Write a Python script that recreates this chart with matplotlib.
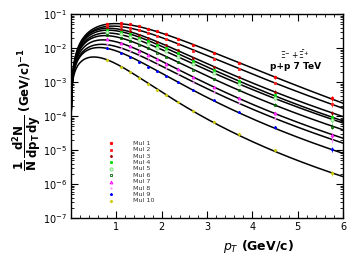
import numpy as np
import matplotlib
matplotlib.use('Agg')
import matplotlib.pyplot as plt
from matplotlib.ticker import LogLocator, MultipleLocator, FixedLocator, NullFormatter

# pT bin centres (GeV/c)
pt = [0.8, 1.1, 1.3, 1.5, 1.7, 1.9, 2.1, 2.35, 2.7, 3.15, 3.7, 4.5, 5.75]

# spectra, one list per multiplicity class
mul1 = [5.2e-2, 5.5e-2, 5.0e-2, 4.3e-2, 3.7e-2, 3.1e-2, 2.5e-2, 1.9e-2, 1.2e-2, 6.9e-3, 3.6e-3, 1.4e-3, 3.3e-4]
mul2 = [4.5e-2, 4.4e-2, 4.0e-2, 3.3e-2, 2.8e-2, 2.3e-2, 1.8e-2, 1.35e-2, 8.4e-3, 4.8e-3, 2.45e-3, 9.4e-4, 2.2e-4]
mul3 = [4.0e-2, 3.6e-2, 3.1e-2, 2.4e-2, 1.95e-2, 1.5e-2, 1.2e-2, 8.6e-3, 5.1e-3, 2.8e-3, 1.4e-3, 5.2e-4, 1.2e-4]
mul4 = [3.4e-2, 3.0e-2, 2.55e-2, 2.0e-2, 1.6e-2, 1.25e-2, 9.7e-3, 6.9e-3, 4.15e-3, 2.3e-3, 1.1e-3, 4.2e-4, 9.5e-5]
mul5 = [2.9e-2, 2.5e-2, 2.1e-2, 1.67e-2, 1.32e-2, 1.02e-2, 7.9e-3, 5.6e-3, 3.35e-3, 1.8e-3, 8.9e-4, 3.3e-4, 7.6e-5]
mul6 = [2.4e-2, 2.0e-2, 1.64e-2, 1.26e-2, 9.7e-3, 7.3e-3, 5.6e-3, 3.9e-3, 2.3e-3, 1.23e-3, 5.9e-4, 2.15e-4, 4.9e-5]
mul7 = [1.78e-2, 1.4e-2, 1.12e-2, 8.4e-3, 6.2e-3, 4.6e-3, 3.5e-3, 2.4e-3, 1.37e-3, 7.2e-4, 3.4e-4, 1.22e-4, 2.75e-5]
mul8 = [1.32e-2, 1.03e-2, 8.2e-3, 6.1e-3, 4.5e-3, 3.35e-3, 2.5e-3, 1.7e-3, 9.8e-4, 5.1e-4, 2.4e-4, 8.6e-5, 1.95e-5]
mul9 = [9.8e-3, 7.1e-3, 5.5e-3, 4.0e-3, 2.85e-3, 2.06e-3, 1.52e-3, 1.0e-3, 5.65e-4, 2.9e-4, 1.32e-4, 4.7e-5, 1.05e-5]
mul10 = [4.5e-3, 2.75e-3, 2.0e-3, 1.35e-3, 8.7e-4, 5.9e-4, 4.2e-4, 2.57e-4, 1.38e-4, 6.8e-5, 2.9e-5, 9.8e-6, 2.1e-6]

# where the fit curves start at the left edge (all bunch near 1e-3)
edge_pt = 0.03
edge_y = [1.2e-3, 1.2e-3, 1.15e-3, 1.1e-3, 1.1e-3, 1.05e-3, 1.0e-3, 1.0e-3, 9.5e-4, 8.5e-4]

# relative errors per bin (small, only visible at high pT)
rel_err = [0.03, 0.03, 0.03, 0.03, 0.03, 0.03, 0.04, 0.04, 0.05, 0.06, 0.08, 0.1, 0.16]

labels = ['Mul 1', 'Mul 2', 'Mul 3', 'Mul 4', 'Mul 5', 'Mul 6', 'Mul 7', 'Mul 8', 'Mul 9', 'Mul 10']
series = [mul1, mul2, mul3, mul4, mul5, mul6, mul7, mul8, mul9, mul10]

# marker styles: (marker, edge colour, face colour, size)
styles = [
    ('o', '#ff0000', '#ff0000', 1.8),
    ('s', '#ff2020', '#ff2020', 1.7),
    ('o', '#a00000', '#a00000', 1.4),
    ('s', '#00dd00', '#00dd00', 1.4),
    ('o', '#77dd77', '#ccffcc', 2.3),
    ('s', '#006600', 'none', 2.0),
    ('^', '#ff00ff', '#ff88ff', 2.1),
    ('.', '#ff88ff', '#ff88ff', 1.7),
    ('*', '#0000ff', '#0000ff', 1.9),
    ('D', '#cccc00', '#cccc00', 1.4),
]

M_XI = 1.3217


def tsallis(x, a, T, n):
    mt = np.sqrt(x**2 + M_XI**2)
    return x**a * (1 + (mt - M_XI) / (n * T))**(-n)


def fit_tsallis(x, y):
    # grid search in log space, normalisation solved directly
    x = np.asarray(x)[None, None, None, :]
    ly = np.log(np.asarray(y))[None, None, None, :]
    a = np.arange(0.1, 1.3, 0.05)[:, None, None, None]
    T = np.arange(0.05, 0.8, 0.01)[None, :, None, None]
    n = np.arange(2.5, 60, 0.5)[None, None, :, None]
    lf = np.log(tsallis(x, a, T, n))
    c = np.mean(ly - lf, axis=-1, keepdims=True)
    r = np.sum((ly - lf - c)**2, axis=-1)
    i, j, k = np.unravel_index(np.argmin(r), r.shape)
    return a[i, 0, 0, 0], T[0, j, 0, 0], n[0, 0, k, 0], np.exp(c[i, j, k, 0])


fig = plt.figure(figsize=(3.55, 2.57), dpi=100)
ax = fig.add_axes([71/355, 1 - 218/257, 272/355, 204/257])

xs = np.linspace(0.005, 6.0, 400)
for y, y0 in zip(series, edge_y):
    a, T, n, C = fit_tsallis([edge_pt] + pt, [y0] + y)
    ax.plot(xs, C * tsallis(xs, a, T, n), color='black', lw=1.1, zorder=2)

for y, (mk, ec, fc, ms) in zip(series, styles):
    y = np.asarray(y)
    ax.errorbar(pt, y, yerr=y * np.asarray(rel_err), fmt=mk, mec=ec, mfc=fc, ms=ms,
                mew=0.6, ecolor=ec, elinewidth=0.6, capsize=0, zorder=3)

ax.set_yscale('log')
ax.set_xlim(0, 6)
ax.set_ylim(1e-7, 1e-1)

ax.xaxis.set_major_locator(FixedLocator([1, 2, 3, 4, 5, 6]))
ax.xaxis.set_minor_locator(MultipleLocator(0.2))
ax.yaxis.set_major_locator(LogLocator(base=10, numticks=10))
ax.yaxis.set_minor_locator(LogLocator(base=10, subs=np.arange(2, 10), numticks=20))
ax.yaxis.set_minor_formatter(NullFormatter())
ax.tick_params(which='both', direction='in', top=True, right=True, labelsize=7, pad=3)
ax.tick_params(which='major', length=5, width=0.8)
ax.tick_params(which='minor', length=2.5, width=0.6)
for s in ax.spines.values():
    s.set_linewidth(1.0)

ax.set_xlabel(r'$\mathbf{\it{p}_{T}}$ (GeV/c)', fontsize=9, fontweight='bold')
ax.xaxis.set_label_coords(0.69, -0.10)
ax.set_ylabel(r'$\mathbf{\dfrac{1}{N}\,\dfrac{d^2N}{dp_T\,dy}}$ (GeV/c)$^{\mathbf{-1}}$',
              fontsize=8.5, fontweight='bold')
ax.yaxis.set_label_coords(-0.10, 0.53)

ax.text(0.825, 0.80, r'$\Xi^{-}+\bar{\Xi}^{+}$', transform=ax.transAxes,
        fontsize=5.5, ha='center', va='center')
ax.text(0.825, 0.745, 'p+p 7 TeV', transform=ax.transAxes,
        fontsize=6.5, fontweight='bold', ha='center', va='center')

# legend drawn by hand as in the original
for i, (lab, (mk, ec, fc, ms)) in enumerate(zip(labels, styles)):
    yy = 0.366 - i * 0.0313
    ax.plot([0.146], [yy], marker=mk, mec=ec, mfc=fc, ms=ms, mew=0.6,
            transform=ax.transAxes, ls='none')
    ax.text(0.227, yy, lab, transform=ax.transAxes, fontsize=4.6,
            color='#333333', va='center', ha='left')

fig.savefig('out.png', dpi=100)
